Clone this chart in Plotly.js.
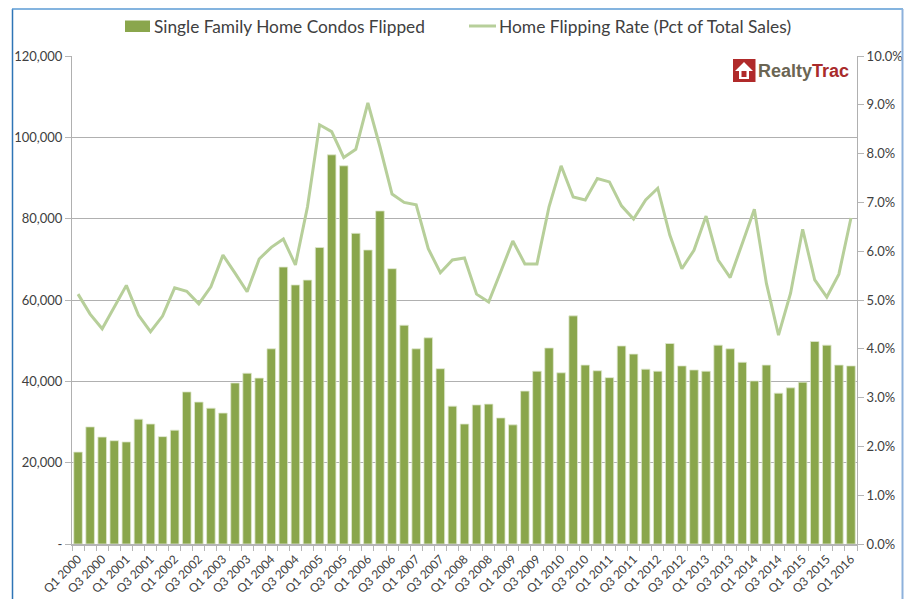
<!DOCTYPE html>
<html><head><meta charset="utf-8">
<script src="https://cdn.plot.ly/plotly-3.0.1.min.js"></script>
<style>html,body{margin:0;padding:0;background:#fff}#c{width:911px;height:599px}</style></head>
<body><div id="c"></div>
<script>
const years = [2000,2001,2002,2003,2004,2005,2006,2007,2008,2009,2010,2011,2012,2013,2014,2015];
const categories = [];
years.forEach(y=>[1,2,3,4].forEach(q=>categories.push('Q'+q+' '+y)));
categories.push('Q1 2016');
const flipped = [22600,28800,26300,25400,25100,30700,29500,26400,28000,37400,34900,33400,32200,39600,42000,40800,48000,68100,63700,64900,72900,95700,93000,76400,72300,81900,67700,53800,48000,50700,43100,33900,29500,34200,34400,31000,29300,37600,42500,48200,42100,56100,44000,42600,40900,48700,46700,43000,42500,49300,43800,42800,42500,48900,48000,44700,40100,44000,37100,38400,39800,49800,48900,44000,43800];
const rate = [5.12,4.71,4.41,4.86,5.30,4.69,4.35,4.67,5.25,5.18,4.92,5.27,5.92,5.55,5.17,5.84,6.08,6.25,5.72,6.91,8.59,8.45,7.92,8.09,9.04,8.14,7.17,7.0,6.95,6.05,5.56,5.82,5.86,5.12,4.96,5.58,6.21,5.74,5.74,6.91,7.75,7.11,7.05,7.49,7.42,6.93,6.66,7.05,7.29,6.33,5.64,6.02,6.72,5.82,5.46,6.16,6.86,5.34,4.28,5.14,6.45,5.41,5.06,5.53,6.68];
const tickLabels = categories.filter((c,i)=>i%2===0);
const boundaryTicks = categories.map((c,i)=>i-0.5).concat([categories.length-0.5]);
const leftTicks = [0,20000,40000,60000,80000,100000,120000];
const leftLabels = ['-','20,000','40,000','60,000','80,000','100,000','120,000'];
const rightTicks = [0,1,2,3,4,5,6,7,8,9,10];
const rightLabels = rightTicks.map(v=>v.toFixed(1)+'%');
const font = 'Lato, sans-serif';
const W=911,H=599,L=72,R=857,T=56,B=544;
const px = (x)=>(x-L)/(R-L), py=(y)=>(B-y)/(B-T);
const traces = [
 {type:'bar',name:'Single Family Home Condos Flipped',x:categories,y:flipped,marker:{color:'#8aa64c',line:{width:0.8,color:'#dfe8cf'}},yaxis:'y'},
 {type:'scatter',mode:'lines',name:'Home Flipping Rate (Pct of Total Sales)',x:categories,y:rate,yaxis:'y2',line:{color:'#b7cf9a',width:3,shape:'linear'}}
];
const layout = {
 width:W,height:H,autosize:false,paper_bgcolor:'#fff',plot_bgcolor:'#fff',
 margin:{l:L,r:W-R,t:T,b:H-B,pad:0},
 font:{family:font,color:'#404040',size:13},
 bargap:0.29,
 showlegend:false,
 xaxis:{type:'category',categoryorder:'array',categoryarray:categories,range:[-0.5,64.5],
   tickmode:'array',tickvals:tickLabels,ticktext:tickLabels,tickangle:-45,
   tickfont:{size:12,family:font,color:'#404040'},ticks:'outside',ticklen:2,tickcolor:'rgba(0,0,0,0)',
   minor:{tickmode:'array',tickvals:boundaryTicks,ticks:'outside',ticklen:5,tickcolor:'#b5b5b5',tickwidth:1,showgrid:false},
   showline:true,linecolor:'#b5b5b5',linewidth:1.5,showgrid:false,automargin:false},
 yaxis:{range:[0,120000],tickmode:'array',tickvals:leftTicks,ticktext:leftLabels,
   tickfont:{size:13,family:font,color:'#404040'},ticks:'outside',ticklen:6,tickcolor:'#b5b5b5',
   showline:true,linecolor:'#b0b0b0',linewidth:1,showgrid:true,gridcolor:'#b0b0b0',gridwidth:1,zeroline:false,automargin:false},
 yaxis2:{overlaying:'y',side:'right',range:[0,10],tickmode:'array',tickvals:rightTicks,ticktext:rightLabels,
   tickfont:{size:13,family:font,color:'#404040'},ticks:'outside',ticklen:6,tickcolor:'#b5b5b5',
   showline:true,linecolor:'#b0b0b0',linewidth:1,showgrid:false,zeroline:false,automargin:false},
 shapes:[
   {type:'line',xref:'paper',yref:'paper',x0:px(12.5),x1:px(12.5),y0:py(9),y1:py(599),line:{color:'#2e75b6',width:1.5}},
   {type:'line',xref:'paper',yref:'paper',x0:px(12),x1:px(903),y0:py(9),y1:py(9),line:{color:'#5b9bd5',width:1.5}},
   {type:'line',xref:'paper',yref:'paper',x0:px(902.5),x1:px(902.5),y0:py(9),y1:py(599),line:{color:'#8db1dc',width:2}},
   {type:'rect',xref:'paper',yref:'paper',x0:px(125),x1:px(150),y0:py(20.5),y1:py(32),fillcolor:'#8aa64c',line:{width:0}},
   {type:'line',xref:'paper',yref:'paper',x0:px(469),x1:px(496),y0:py(26),y1:py(26),line:{color:'#b7cf9a',width:3}},
   {type:'rect',xref:'paper',yref:'paper',x0:px(733),x1:px(755.5),y0:py(59),y1:py(82),fillcolor:'#b02a2a',line:{width:0}},
   {type:'path',xref:'paper',yref:'paper',
    path:`M ${px(744)} ${py(62)} L ${px(753)} ${py(71)} L ${px(749)} ${py(71)} L ${px(749)} ${py(79)} L ${px(739)} ${py(79)} L ${px(739)} ${py(71)} L ${px(735)} ${py(71)} Z`,
    fillcolor:'#ffffff',line:{width:0}},
   {type:'rect',xref:'paper',yref:'paper',x0:px(741.5),x1:px(746.5),y0:py(71),y1:py(77),fillcolor:'#b02a2a',line:{width:0}}
 ],
 annotations:[
   {xref:'paper',yref:'paper',x:px(152),y:py(26),xanchor:'left',yanchor:'middle',showarrow:false,text:'Single Family Home Condos Flipped',font:{family:font,size:17.3,color:'#404040'}},
   {xref:'paper',yref:'paper',x:px(497),y:py(26),xanchor:'left',yanchor:'middle',showarrow:false,text:'Home Flipping Rate (Pct of Total Sales)',font:{family:font,size:17.4,color:'#404040'}},
   {xref:'paper',yref:'paper',x:px(756),y:py(71),xanchor:'left',yanchor:'middle',showarrow:false,
    text:'<b><span style="color:#6b6553">Realty</span><span style="color:#a92b2b">Trac</span></b>',font:{family:'"Liberation Sans",sans-serif',size:18}}
 ]
};
Plotly.newPlot('c',traces,layout,{displayModeBar:false,staticPlot:true});
</script></body></html>
